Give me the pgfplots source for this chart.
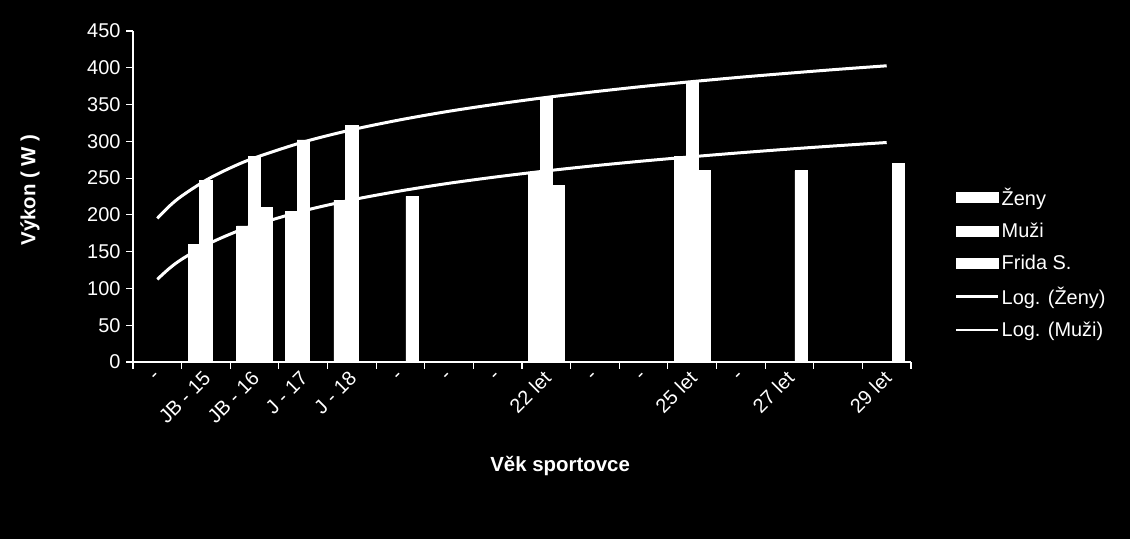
\documentclass[border=0pt]{standalone}
\usepackage{fontspec}
\setmainfont{Liberation Sans}
\usepackage{pgfplots}
\pgfplotsset{compat=1.18}
\begin{document}
\begin{tikzpicture}
\fill[black] (0,0) rectangle (1130bp,539bp);
\useasboundingbox (0,0) rectangle (1130bp,539bp);
\begin{axis}[
  at={(133bp,177bp)}, anchor=south west,
  scale only axis, width=778bp, height=331bp,
  xmin=-0.5, xmax=15.5, ymin=0, ymax=450,
  ytick={0,50,...,450},
  xtick={0,...,15},
  xticklabels={-,JB - 15,JB - 16,J - 17,J - 18,-,-,-,22 let,-,-,25 let,-,27 let,,29 let},
  minor xtick={-0.5,0.5,...,15.5},
  major x tick style={draw=none},
  axis lines*=left,
  tick align=outside,
  axis line style={white, line width=1.2bp},
  tick style={white, line width=1.2bp},
  major tick length=7bp, minor tick length=7bp,
  /pgf/number format/assume math mode=true,
  ticklabel style={text=white, font=\fontsize{20}{24}\selectfont},
  xticklabel style={rotate=45, anchor=east, yshift=-5bp, xshift=0bp},
  yticklabel style={xshift=-2bp},
  ylabel={Výkon ( W )},
  ylabel style={at={(axis description cs:-0.1324,0.52)}, anchor=center, text=white, font=\bfseries\fontsize{20.5}{24}\selectfont},
  xlabel={Věk sportovce},
  xlabel style={at={(axis description cs:0.549,-0.315)}, anchor=center, text=white, font=\bfseries\fontsize{20.5}{24}\selectfont},
  legend style={at={(1.0566,0.532)}, anchor=north west, draw=none, fill=none, text=white,
    font=\fontsize{20}{24}\selectfont, row sep=12bp, inner sep=0pt},
  legend cell align=left,
]
\addplot[ybar, bar width=12.3bp, bar shift=-11.7bp, fill=white, draw=white, line width=0.6bp,
  legend image code/.code={\fill[white] (0bp,-5bp) rectangle (42bp,5bp);}]
  coordinates {(1,160) (2,185) (3,205) (4,220) (8,258) (11,280)};
\addlegendentry{Ženy}
\addplot[ybar, bar width=12.3bp, bar shift=0bp, fill=white, draw=white, line width=0.6bp,
  legend image code/.code={\fill[white] (0bp,-5bp) rectangle (42bp,5bp);}]
  coordinates {(1,247) (2,279) (3,302) (4,322) (8,360) (11,382)};
\addlegendentry{Muži}
\addplot[ybar, bar width=12.3bp, bar shift=11.7bp, fill=white, draw=white, line width=0.6bp,
  legend image code/.code={\fill[white] (0bp,-5bp) rectangle (42bp,5bp);}]
  coordinates {(2,210) (5,225) (8,240) (11,260) (13,260) (15,270)};
\addlegendentry{Frida S.}
\addplot[white, line width=3bp, smooth,
  legend image code/.code={\draw[white,line width=2.5bp] (0bp,0bp)--(42bp,0bp);}]
  coordinates {(0,112.4) (0.25,127.4) (0.5,139.6) (1,158.9) (1.5,173.9) (2,186.1) (3,205.4) (4,220.4) (5,232.6) (6,243.0) (7,251.9) (8,259.8) (9,266.9) (10,273.3) (11,279.1) (12,284.5) (13,289.5) (14,294.1) (15,298.4)};
\addlegendentry{Log. (Ženy)}
\addplot[white, line width=3bp, smooth,
  legend image code/.code={\draw[white,line width=2.5bp] (0bp,0bp)--(42bp,0bp);}]
  coordinates {(0,195.3) (0.25,212.0) (0.5,225.6) (1,247.1) (1.5,263.8) (2,277.5) (3,299.0) (4,315.7) (5,329.3) (6,340.9) (7,350.8) (8,359.7) (9,367.5) (10,374.7) (11,381.2) (12,387.2) (13,392.7) (14,397.9) (15,402.7)};
\addlegendentry{Log. (Muži)}
\end{axis}
\end{tikzpicture}
\end{document}
